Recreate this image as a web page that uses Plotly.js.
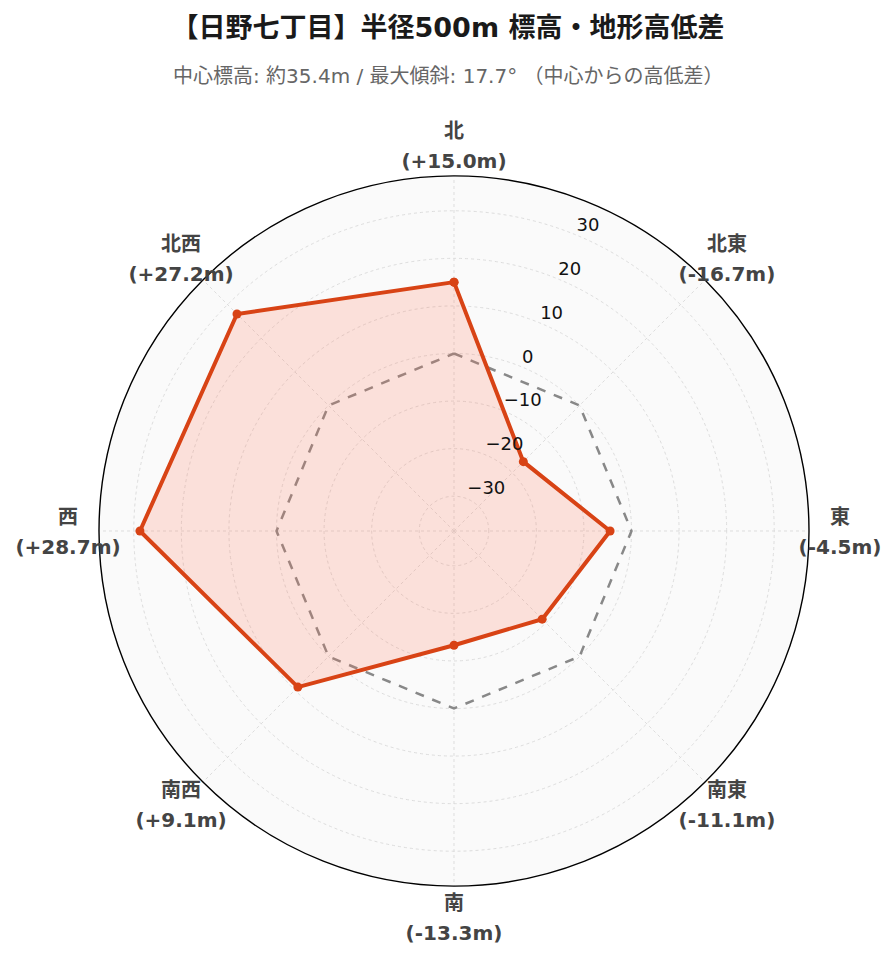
<!DOCTYPE html>
<html><head><meta charset="utf-8">
<script src="https://cdn.plot.ly/plotly-3.0.1.min.js"></script>
<style>body{margin:0;background:#fff}</style>
</head><body><div id="chart" style="width:896px;height:962px"></div>
<script>
const directions = ["北","北東","東","南東","南","南西","西","北西"];
const diffs = [15.0, -16.7, -4.5, -11.1, -13.3, 9.1, 28.7, 27.2];
const baseline = [0,0,0,0,0,0,0,0];
const radialTicks = [-30,-20,-10,0,10,20,30];

const step = 360/directions.length;
const angles = directions.map((d,i)=>i*step);
function fmt(v){ return "(" + (v>=0?"+":"") + v.toFixed(1) + "m)"; }
const valueLabels = diffs.map(fmt);
const tickText = radialTicks.map(v => v<0 ? "\u2212"+Math.abs(v) : String(v));
const maxAbs = Math.max(...diffs.map(Math.abs));
const lim = maxAbs*1.3;
const radialAngle = step/2; // between 北 and 北東

// layout geometry: outer label frame is a helper polar (polar2) enclosing the chart polar
const half = 420, chartR = 355, labelFrac = 386/half;
const inner = chartR/half;
const dom = [0.5-inner/2, 0.5+inner/2];

const closeArr = a => a.concat([a[0]]);
const FONT = "DejaVu Sans, Noto Sans CJK JP, sans-serif";
const lblFont = {size:20, color:"#444", family:FONT, weight:"bold"};

const traces = [
  {type:"scatterpolar", r: closeArr(baseline), theta: closeArr(angles), mode:"lines",
   line:{color:"#888888", width:2.5, dash:"dash"}, hoverinfo:"skip", showlegend:false},
  {type:"scatterpolar", r: closeArr(diffs), theta: closeArr(angles), mode:"lines+markers",
   fill:"toself", fillcolor:"rgba(255,120,90,0.2)",
   line:{color:"#d84315", width:4}, marker:{color:"#d84315", size:9},
   text: closeArr(directions), hoverinfo:"text+r", showlegend:false},
  {type:"scatterpolar", r: radialTicks, theta: radialTicks.map(()=>radialAngle), mode:"text",
   text: tickText, textposition:"top right", textfont:{size:18, color:"#111", family:FONT},
   hoverinfo:"skip", showlegend:false, cliponaxis:false},
  {type:"scatterpolar", subplot:"polar2", r: angles.map(()=>labelFrac), theta: angles, mode:"markers+text",
   marker:{size:2, color:"rgba(0,0,0,0)"},
   text: directions, textposition:"top center", textfont:lblFont,
   hoverinfo:"skip", showlegend:false, cliponaxis:false},
  {type:"scatterpolar", subplot:"polar2", r: angles.map(()=>labelFrac), theta: angles, mode:"markers+text",
   marker:{size:11, color:"rgba(0,0,0,0)"},
   text: valueLabels, textposition:"bottom center", textfont:lblFont,
   hoverinfo:"skip", showlegend:false, cliponaxis:false}
];

const mL = 454-half, mT = 531-half;
const mR = 896-(454+half), mB = 962-(531+half);

const layout = {
  width:896, height:962,
  paper_bgcolor:"#ffffff",
  font:{family:FONT, color:"#222"},
  margin:{l:mL, r:mR, t:mT, b:mB},
  title:{text:"<b>【日野七丁目】半径500m 標高・地形高低差</b>", x:0.5, xanchor:"center",
         y:1-28/962, yref:"container", yanchor:"middle", font:{size:27, color:"#1a1a1a", family:FONT}},
  annotations:[{text:"中心標高: 約35.4m / 最大傾斜: 17.7° （中心からの高低差）", xref:"paper", yref:"paper",
    x:(448-mL)/(2*half), y:(962-mB-76)/(2*half), xanchor:"center", yanchor:"middle", showarrow:false,
    font:{size:20, color:"#666", family:FONT}}],
  polar:{
    domain:{x:dom, y:dom},
    bgcolor:"#fafafa",
    angularaxis:{type:"linear", direction:"clockwise", rotation:90, showline:true, linecolor:"#000", linewidth:1.4,
      tickmode:"array", tickvals:angles, showticklabels:false,
      gridcolor:"#dddddd", griddash:"dot", ticks:""},
    radialaxis:{range:[-lim, lim], angle:radialAngle, tickvals:radialTicks, showticklabels:false, showline:false, ticks:"",
      gridcolor:"#dddddd", griddash:"dot"}
  },
  polar2:{
    domain:{x:[0,1], y:[0,1]},
    bgcolor:"rgba(0,0,0,0)",
    angularaxis:{type:"linear", direction:"clockwise", rotation:90, showline:false, showgrid:false,
      showticklabels:false, ticks:""},
    radialaxis:{range:[0,1], showline:false, showgrid:false, showticklabels:false, ticks:""}
  }
};
Plotly.newPlot("chart", traces, layout, {displayModeBar:false});
</script></body></html>
